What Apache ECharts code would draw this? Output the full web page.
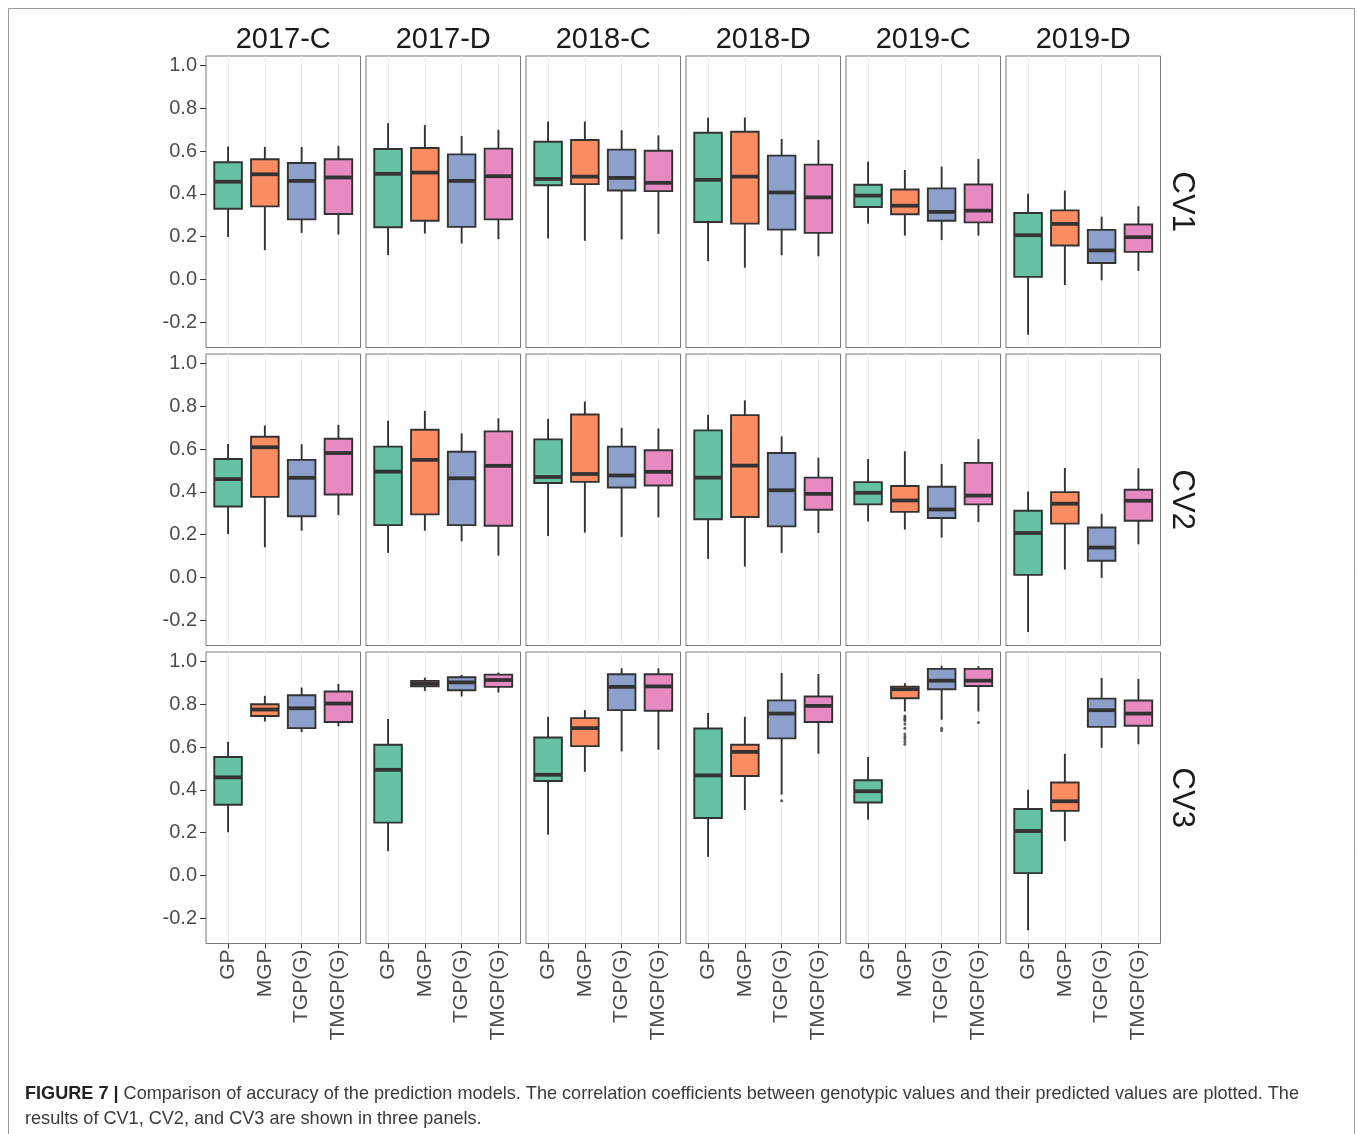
<!DOCTYPE html>
<html>
<head>
<meta charset="utf-8">
<script src="https://cdn.jsdelivr.net/npm/echarts@6/dist/echarts.min.js"></script>
<style>
  html, body { margin: 0; padding: 0; background: #ffffff; }
  #chart { width: 1358px; height: 1134px; }
</style>
</head>
<body>
<div id="chart"></div>
<script>
// Facet labels and model names
const years = ['2017-C', '2017-D', '2018-C', '2018-D', '2019-C', '2019-D'];
const schemes = ['CV1', 'CV2', 'CV3'];
const models = ['GP', 'MGP', 'TGP(G)', 'TMGP(G)'];
const modelColors = ['#66C2A5', '#FC8D62', '#8DA0CB', '#E78AC3'];
const yTicks = [-0.2, 0, 0.2, 0.4, 0.6, 0.8, 1.0];
const yTickLabels = ['-0.2', '0.0', '0.2', '0.4', '0.6', '0.8', '1.0'];

// Box statistics per year, per model: [lower whisker, Q1, median, Q3, upper whisker]
const cv1Stats = [
  [[0.199, 0.331, 0.457, 0.548, 0.622], [0.137, 0.342, 0.492, 0.562, 0.620], [0.218, 0.281, 0.461, 0.545, 0.620], [0.210, 0.306, 0.477, 0.562, 0.625]],
  [[0.114, 0.244, 0.494, 0.610, 0.731], [0.215, 0.275, 0.500, 0.615, 0.722], [0.168, 0.246, 0.461, 0.585, 0.671], [0.188, 0.281, 0.483, 0.612, 0.700]],
  [[0.192, 0.441, 0.470, 0.644, 0.739], [0.181, 0.446, 0.481, 0.652, 0.739], [0.187, 0.416, 0.475, 0.607, 0.698], [0.213, 0.413, 0.452, 0.602, 0.674]],
  [[0.086, 0.269, 0.466, 0.686, 0.757], [0.055, 0.261, 0.481, 0.691, 0.757], [0.113, 0.233, 0.407, 0.579, 0.657], [0.108, 0.218, 0.384, 0.537, 0.652]],
  [[0.261, 0.339, 0.392, 0.443, 0.551], [0.205, 0.305, 0.345, 0.421, 0.512], [0.184, 0.275, 0.316, 0.426, 0.528], [0.205, 0.267, 0.322, 0.444, 0.564]],
  [[-0.258, 0.012, 0.207, 0.311, 0.401], [-0.026, 0.159, 0.260, 0.323, 0.416], [-0.004, 0.077, 0.136, 0.232, 0.294], [0.040, 0.129, 0.198, 0.257, 0.343]]
];
const cv2Stats = [
  [[0.203, 0.332, 0.460, 0.554, 0.624], [0.141, 0.377, 0.609, 0.658, 0.711], [0.219, 0.286, 0.466, 0.550, 0.623], [0.292, 0.388, 0.582, 0.649, 0.714]],
  [[0.115, 0.245, 0.495, 0.612, 0.733], [0.219, 0.295, 0.550, 0.691, 0.779], [0.169, 0.245, 0.464, 0.588, 0.674], [0.102, 0.242, 0.522, 0.683, 0.744]],
  [[0.194, 0.442, 0.470, 0.646, 0.742], [0.210, 0.447, 0.484, 0.762, 0.823], [0.190, 0.421, 0.477, 0.612, 0.700], [0.281, 0.430, 0.494, 0.595, 0.697]],
  [[0.087, 0.272, 0.467, 0.688, 0.761], [0.051, 0.283, 0.523, 0.759, 0.828], [0.115, 0.239, 0.408, 0.582, 0.660], [0.208, 0.317, 0.391, 0.467, 0.560]],
  [[0.262, 0.342, 0.396, 0.446, 0.554], [0.224, 0.307, 0.360, 0.428, 0.590], [0.186, 0.278, 0.318, 0.424, 0.531], [0.259, 0.342, 0.383, 0.536, 0.647]],
  [[-0.255, 0.012, 0.208, 0.312, 0.402], [0.037, 0.252, 0.345, 0.399, 0.512], [-0.002, 0.078, 0.140, 0.234, 0.298], [0.155, 0.265, 0.359, 0.410, 0.511]]
];
const cv3Stats = [
  [[0.202, 0.331, 0.459, 0.554, 0.625], [0.720, 0.746, 0.776, 0.801, 0.840], [0.670, 0.689, 0.782, 0.843, 0.879], [0.697, 0.718, 0.804, 0.860, 0.896]],
  [[0.114, 0.247, 0.494, 0.611, 0.732], [0.863, 0.885, 0.897, 0.910, 0.925], [0.837, 0.866, 0.903, 0.927, 0.938], [0.855, 0.882, 0.914, 0.939, 0.949]],
  [[0.191, 0.442, 0.471, 0.645, 0.742], [0.485, 0.605, 0.689, 0.736, 0.773], [0.580, 0.773, 0.882, 0.941, 0.969], [0.588, 0.770, 0.884, 0.941, 0.969]],
  [[0.087, 0.269, 0.468, 0.687, 0.760], [0.306, 0.465, 0.578, 0.611, 0.742], [0.378, 0.641, 0.757, 0.819, 0.947], [0.569, 0.718, 0.793, 0.837, 0.942]],
  [[0.261, 0.341, 0.394, 0.445, 0.554], [0.767, 0.829, 0.871, 0.883, 0.899], [0.728, 0.871, 0.911, 0.966, 0.981], [0.767, 0.886, 0.911, 0.966, 0.979]],
  [[-0.256, 0.011, 0.208, 0.311, 0.401], [0.160, 0.302, 0.347, 0.435, 0.569], [0.597, 0.695, 0.773, 0.827, 0.924], [0.613, 0.700, 0.757, 0.818, 0.919]]
];
// Outlying points: [year index, model index, value]
const cv3Outliers = [
  [3, 2, 0.350],
  [4, 1, 0.746], [4, 1, 0.739], [4, 1, 0.731], [4, 1, 0.723], [4, 1, 0.708], [4, 1, 0.689],
  [4, 1, 0.661], [4, 1, 0.650], [4, 1, 0.639], [4, 1, 0.627], [4, 1, 0.614],
  [4, 2, 0.689], [4, 2, 0.678],
  [4, 3, 0.715]
];
const statsByScheme = [cv1Stats, cv2Stats, cv3Stats];
const outliersByScheme = [[], [], cv3Outliers];

// Panel geometry
const PANEL_LEFT = 206, PANEL_TOP = 56;
const PANEL_W = 154.5, PANEL_H = 291.5;
const STEP_X = 160, STEP_Y = 298;
const Y_MIN = -0.318, Y_MAX = 1.045;
const X_MIN = -0.6, X_MAX = 3.6;
const BOX_WIDTH = 0.75;
const INK = '#333333';
const LABEL_FONT = '"Liberation Sans", Arial, Helvetica, sans-serif';

function renderBox(params, api) {
  const x = api.value(0);
  const lo = api.coord([x, api.value(1)]);
  const q1 = api.coord([x, api.value(2)]);
  const md = api.coord([x, api.value(3)]);
  const q3 = api.coord([x, api.value(4)]);
  const hi = api.coord([x, api.value(5)]);
  const half = api.size([BOX_WIDTH, 0])[0] / 2;
  const fill = modelColors[api.value(6)];
  const lineStyle = { stroke: INK, lineWidth: 1.9 };
  return {
    type: 'group',
    children: [
      { type: 'line', shape: { x1: lo[0], y1: lo[1], x2: q1[0], y2: q1[1] }, style: lineStyle },
      { type: 'line', shape: { x1: q3[0], y1: q3[1], x2: hi[0], y2: hi[1] }, style: lineStyle },
      { type: 'rect', shape: { x: q1[0] - half, y: q3[1], width: half * 2, height: q1[1] - q3[1] },
        style: { fill: fill, stroke: INK, lineWidth: 1.9 } },
      { type: 'line', shape: { x1: md[0] - half, y1: md[1], x2: md[0] + half, y2: md[1] },
        style: { stroke: INK, lineWidth: 3.8 } }
    ]
  };
}

const grids = [], xAxes = [], yAxes = [], series = [], graphics = [];
let gi = 0;
for (let r = 0; r < schemes.length; r++) {
  for (let c = 0; c < years.length; c++) {
    const left = PANEL_LEFT + c * STEP_X;
    const top = PANEL_TOP + r * STEP_Y;
    const isBottom = r === schemes.length - 1;
    const isLeft = c === 0;
    grids.push({
      left: left, top: top, width: PANEL_W, height: PANEL_H,
      show: true, backgroundColor: '#ffffff', borderColor: '#7a7a7a', borderWidth: 1
    });
    xAxes.push({
      gridIndex: gi, type: 'value', min: X_MIN, max: X_MAX, position: 'bottom',
      axisLine: { show: false, onZero: false },
      axisTick: { show: isBottom, customValues: [0, 1, 2, 3], length: 5, lineStyle: { color: INK } },
      axisLabel: {
        show: isBottom, customValues: [0, 1, 2, 3], rotate: 90, margin: 6,
        formatter: v => models[Math.round(v)],
        fontSize: 21, color: '#4d4d4d', fontFamily: LABEL_FONT
      },
      splitLine: { show: true, lineStyle: { color: '#ebebeb', width: 1 } }
    });
    yAxes.push({
      gridIndex: gi, type: 'value', min: Y_MIN, max: Y_MAX, position: 'left',
      axisLine: { show: false, onZero: false },
      axisTick: { show: isLeft, customValues: yTicks, length: 6, lineStyle: { color: INK } },
      axisLabel: {
        show: isLeft, customValues: yTicks, margin: 9,
        formatter: v => yTickLabels[yTicks.findIndex(t => Math.abs(t - v) < 1e-6)],
        fontSize: 20, color: '#4d4d4d', fontFamily: LABEL_FONT
      },
      splitLine: { show: false }
    });
    const boxes = statsByScheme[r][c].map((s, m) => [m, s[0], s[1], s[2], s[3], s[4], m]);
    series.push({
      type: 'custom', xAxisIndex: gi, yAxisIndex: gi,
      renderItem: renderBox,
      encode: { x: 0, y: [1, 2, 3, 4, 5] },
      data: boxes, silent: true, clip: false
    });
    const pts = outliersByScheme[r].filter(o => o[0] === c).map(o => [o[1], o[2]]);
    if (pts.length) {
      series.push({
        type: 'scatter', xAxisIndex: gi, yAxisIndex: gi,
        symbol: 'circle', symbolSize: 3,
        itemStyle: { color: INK },
        data: pts, silent: true
      });
    }
    gi++;
  }
}

// Column strip titles
years.forEach((y, c) => {
  graphics.push({
    type: 'text', x: PANEL_LEFT + c * STEP_X + PANEL_W / 2, y: 39.5,
    style: { text: y, fontSize: 29, fontFamily: LABEL_FONT, fill: '#1a1a1a', align: 'center', verticalAlign: 'middle' }
  });
});
// Row strip titles
schemes.forEach((s, r) => {
  graphics.push({
    type: 'text', x: 1182, y: PANEL_TOP + r * STEP_Y + PANEL_H / 2, rotation: -Math.PI / 2,
    style: { text: s, fontSize: 31, fontFamily: LABEL_FONT, fill: '#1a1a1a', align: 'center', verticalAlign: 'middle' }
  });
});
// Figure frame
graphics.push({
  type: 'rect', shape: { x: 8.5, y: 8.5, width: 1346, height: 1140 },
  style: { fill: 'none', stroke: '#9a9a9a', lineWidth: 1 }, silent: true
});
// Caption
graphics.push({
  type: 'text', x: 25, y: 1081,
  style: {
    text: '{b|FIGURE 7 |} Comparison of accuracy of the prediction models. The correlation coefficients between genotypic values and their predicted values are plotted. The\nresults of CV1, CV2, and CV3 are shown in three panels.',
    fontSize: 18.1, fontFamily: LABEL_FONT, fill: '#3a3a3a', lineHeight: 25,
    rich: { b: { fontWeight: 'bold', fontSize: 18.1, fontFamily: LABEL_FONT, fill: '#222222' } }
  }
});

const chart = echarts.init(document.getElementById('chart'), null, { renderer: 'canvas' });
chart.setOption({
  backgroundColor: '#ffffff',
  animation: false,
  grid: grids,
  xAxis: xAxes,
  yAxis: yAxes,
  series: series,
  graphic: graphics
});
</script>
</body>
</html>
